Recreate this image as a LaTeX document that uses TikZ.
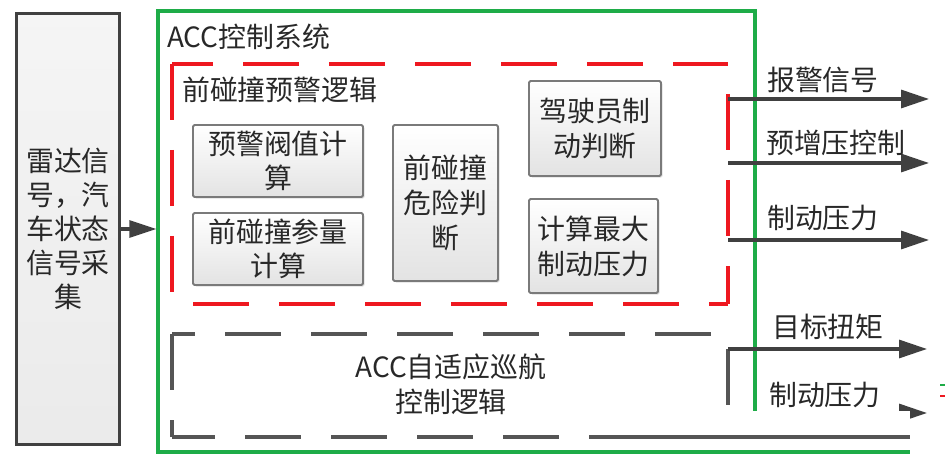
\documentclass[tikz,border=0pt]{standalone}
\usepackage{fontspec}
\setmainfont{Noto Sans CJK SC}
\usetikzlibrary{arrows.meta,shadows}
\definecolor{accgreen}{RGB}{30,172,72}
\definecolor{accred}{RGB}{238,24,32}
\definecolor{dashgray}{RGB}{85,85,85}
\definecolor{arrgray}{RGB}{64,64,64}
\definecolor{txtc}{RGB}{40,40,40}
\begin{document}
\begin{tikzpicture}[x=1bp,y=-1bp,
  txt/.style={font=\fontsize{28}{34}\selectfont, text=txtc, inner sep=0pt},
  lbl/.style={txt, anchor=west},
  gbox/.style={draw=black!52, line width=1.8bp, rounded corners=1.5bp,
    top color=white, bottom color=black!11, align=center, inner sep=0pt, txt,
    drop shadow={opacity=0.25, shadow xshift=1.6bp, shadow yshift=-1.6bp}},
  srcbox/.style={draw=arrgray, line width=3bp, top color=black!4, bottom color=black!8,
    align=center, inner sep=0pt, txt,
    drop shadow={opacity=0.25, shadow xshift=1.6bp, shadow yshift=-1.6bp}},
  grn/.style={draw=accgreen, line width=3.3bp},
  reddash/.style={draw=accred, line width=3.4bp, dash pattern=on 56bp off 30bp},
  graydash/.style={draw=dashgray, line width=3.4bp, dash pattern=on 56bp off 30bp},
  arr/.style={draw=arrgray, line width=3.2bp, -{Triangle[length=28bp,width=18bp]}}
]
\useasboundingbox (0,0) rectangle (945,467);

% source box
\node[srcbox, minimum width=102bp, minimum height=430bp] (src) at (68,229)
  {雷达信\\号，汽\\车状态\\信号采\\集};

% ACC system (green)
\node[grn, minimum width=597bp, minimum height=441bp, inner sep=0pt] (acc) at (456.5,231.5) {};
\node[lbl] (acct) at (167,37) {ACC控制系统};

% red dashed box (forward collision warning logic)
\coordinate (rTL) at (172,64);
\coordinate (rTR) at (728,64);
\coordinate (rBL) at (172,304);
\coordinate (rBR) at (728,304);
\draw[reddash, dash phase=15bp] (rTL) -- (rTR);
\draw[reddash, dash phase=56bp] (rTR) -- (rBR);
\draw[reddash, dash phase=65bp] (rBL) -- (rBR);
\draw[reddash, dash phase=0bp] (rTL) -- (rBL);
\node[lbl] (fcw) at (182,90) {前碰撞预警逻辑};

% gray dashed box (ACC logic)
\coordinate (gTL) at (172,334);
\coordinate (gTR) at (728,334);
\coordinate (gBL) at (172,437);
\coordinate (gBR) at (728,437);
\draw[graydash, dash phase=33bp] (gTL) -- (gTR);
\draw[graydash, dash phase=71bp] (gTR) -- (gBR);
\draw[graydash, dash phase=13bp] (gBL) -- (gBR);
\draw[graydash, dash phase=0bp] (gTL) -- (gBL);
\node[txt, align=center, font=\fontsize{28}{35}\selectfont] (accl) at (451,384.5) {ACC自适应巡航\\控制逻辑};

% inner boxes
\node[gbox, minimum width=170bp, minimum height=72bp] (b1) at (278,161) {预警阀值计\\算};
\node[gbox, minimum width=170bp, minimum height=72bp] (b2) at (278,249) {前碰撞参量\\计算};
\node[gbox, minimum width=105bp, minimum height=156bp, font=\fontsize{28}{35}\selectfont] (b3) at (445.5,203) {前碰撞\\危险判\\断};
\node[gbox, minimum width=132bp, minimum height=95bp, font=\fontsize{28}{35}\selectfont] (b4) at (595,128.5) {驾驶员制\\动判断};
\node[gbox, minimum width=129bp, minimum height=94bp, font=\fontsize{28}{35}\selectfont] (b5) at (593.5,246) {计算最大\\制动压力};

% input arrow
\draw[arr, -{Triangle[length=27bp,width=17bp]}] (src.east) -- (src.east -| acc.west);

% output arrows
\coordinate (o1) at (728,99);   \coordinate (t1) at (929,99);
\coordinate (o2) at (728,163);  \coordinate (t2) at (929,163);
\coordinate (o3) at (728,240);  \coordinate (t3) at (929,240);
\coordinate (o4) at (728,349);  \coordinate (t4) at (927,349);
\coordinate (o5) at (728,413);  \coordinate (t5) at (927,413);
\draw[arr] (o1) -- (t1);
\draw[arr] (o2) -- (t2);
\draw[arr] (o3) -- (t3);
\draw[arr] (o4) -- (t4);
\draw[arr] (o5) -- (t5);
\node[lbl] (l1) at (767,80) {报警信号};
\node[lbl] (l2) at (766,143) {预增压控制};
\node[lbl] (l3) at (767,218) {制动压力};
\node[lbl] (l4) at (772,327) {目标扭矩};
\node[lbl] (l5) at (769,395) {制动压力};

% pasted white patch at lower right
\fill[white] (630,411) rectangle (910,467);
\draw[draw=dashgray, line width=3.4bp] (620,437) -- (910,437);
\draw[grn] (620,452) -- (910,452);
\draw[draw=accgreen, line width=2bp] (940,385) -- (945,385);
\draw[draw=accred, line width=2bp] (940,396) -- (945,396);
\end{tikzpicture}
\end{document}
